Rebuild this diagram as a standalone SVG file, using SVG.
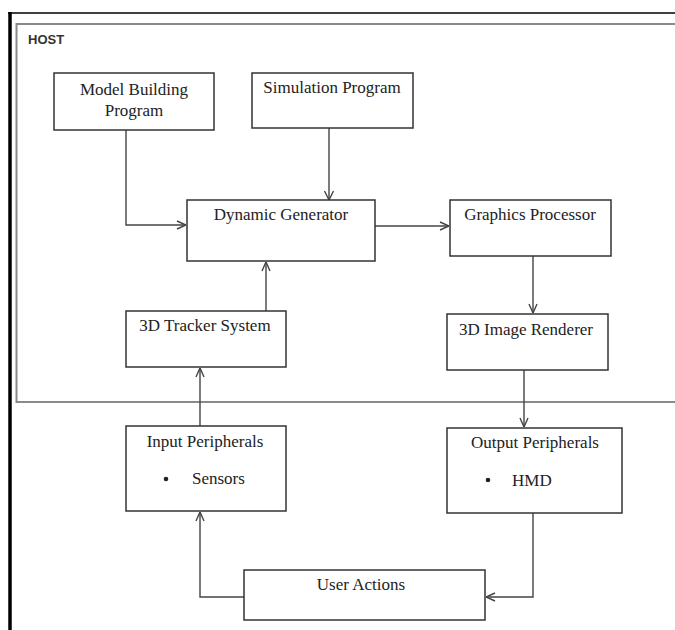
<svg xmlns="http://www.w3.org/2000/svg" width="675" height="630" viewBox="0 0 675 630">
<defs>
<style>
.box{fill:#fff;stroke:#333;stroke-width:1.5}
.t{font-family:"Liberation Serif","Times New Roman",serif;font-size:17px;fill:#222;text-anchor:middle}
.tl{font-family:"Liberation Serif","Times New Roman",serif;font-size:17px;fill:#222}
.c{fill:none;stroke:#444;stroke-width:1.4}
</style>
<marker id="ah" viewBox="0 0 10 10" refX="10" refY="5" markerWidth="10" markerHeight="10" markerUnits="userSpaceOnUse" orient="auto">
<path d="M1,1 L10,5 L1,9" fill="none" stroke="#444" stroke-width="1.4"/>
</marker>
</defs>
<rect width="675" height="630" fill="#fff"/>
<g id="frame">
<line x1="8" y1="13" x2="675" y2="13" stroke="#000" stroke-width="1.6"/>
<line x1="10" y1="12" x2="10" y2="630" stroke="#000" stroke-width="3.5"/>
</g>
<g id="host">
<polyline points="675,24 16.5,24 16.5,402 675,402" fill="none" stroke="#8a8a8a" stroke-width="2"/>
<text x="28" y="44" font-family="'Liberation Sans',Arial,sans-serif" font-size="13" fill="#333" font-weight="bold">HOST</text>
</g>
<g id="connectors">
<polyline class="c" points="126,130 126,225 186,225" marker-end="url(#ah)"/>
<line class="c" x1="329" y1="128" x2="329" y2="199"/>
<path d="M324.5,191 L329,200 L333.5,191" fill="none" stroke="#444" stroke-width="1.4"/>
<line class="c" x1="375" y1="226" x2="449" y2="226" marker-end="url(#ah)"/>
<line class="c" x1="533" y1="256" x2="533" y2="313" marker-end="url(#ah)"/>
<line class="c" x1="266" y1="311" x2="266" y2="262" marker-end="url(#ah)"/>
<line class="c" x1="524" y1="370" x2="524" y2="427" marker-end="url(#ah)"/>
<line class="c" x1="200" y1="426" x2="200" y2="368" marker-end="url(#ah)"/>
<polyline class="c" points="533,513 533,597 486,597" marker-end="url(#ah)"/>
<polyline class="c" points="244,597 200,597 200,512" marker-end="url(#ah)"/>
</g>
<g id="model-building">
<rect class="box" x="54" y="73" width="160" height="57"/>
<text class="t" x="134" y="95">Model Building</text>
<text class="t" x="134" y="116">Program</text>
</g>
<g id="simulation">
<rect class="box" x="252" y="73" width="161" height="55"/>
<text class="t" x="332" y="93">Simulation Program</text>
</g>
<g id="dynamic-generator">
<rect class="box" x="187" y="200" width="188" height="61"/>
<text class="t" x="281" y="220">Dynamic Generator</text>
</g>
<g id="graphics-processor">
<rect class="box" x="450" y="200" width="161" height="56"/>
<text class="t" x="530" y="220">Graphics Processor</text>
</g>
<g id="tracker">
<rect class="box" x="126" y="311" width="160" height="56"/>
<text class="t" x="205" y="331">3D Tracker System</text>
</g>
<g id="renderer">
<rect class="box" x="447" y="314" width="161" height="56"/>
<text class="t" x="526" y="335">3D Image Renderer</text>
</g>
<g id="input">
<rect class="box" x="126" y="426" width="160" height="85"/>
<text class="t" x="205" y="447">Input Peripherals</text>
<circle cx="166" cy="479" r="2.3" fill="#222"/>
<text class="tl" x="192" y="484">Sensors</text>
</g>
<g id="output">
<rect class="box" x="447" y="428" width="175" height="85"/>
<text class="t" x="535" y="448">Output Peripherals</text>
<circle cx="488" cy="480" r="2.3" fill="#222"/>
<text class="tl" x="512" y="486">HMD</text>
</g>
<g id="user-actions">
<rect class="box" x="244" y="570" width="241" height="50"/>
<text class="t" x="361" y="590">User Actions</text>
</g>
</svg>
